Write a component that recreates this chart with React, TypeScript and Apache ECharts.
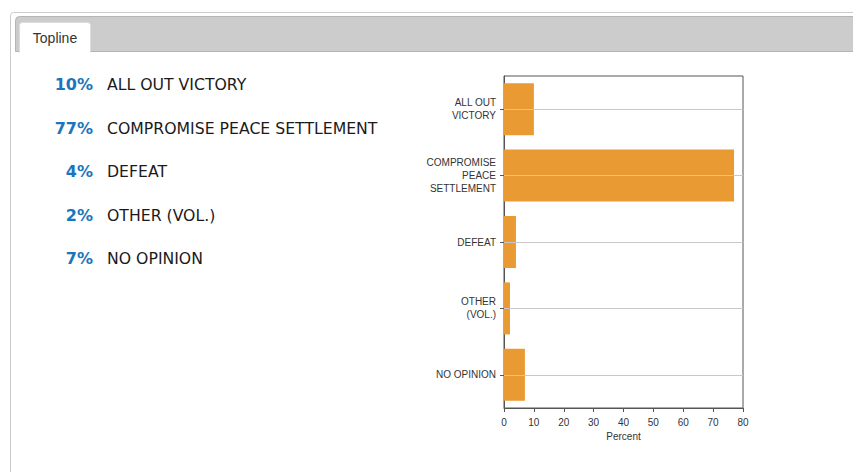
import React, { useEffect, useRef } from "react";
import * as echarts from "echarts";

const categories = ["ALL OUT\nVICTORY", "COMPROMISE\nPEACE\nSETTLEMENT", "DEFEAT", "OTHER\n(VOL.)", "NO OPINION"];
const listLabels = ["ALL OUT VICTORY", "COMPROMISE PEACE SETTLEMENT", "DEFEAT", "OTHER (VOL.)", "NO OPINION"];
const values = [10, 77, 4, 2, 7];
const xTicks = [0, 10, 20, 30, 40, 50, 60, 70, 80];
const tabTitle = "Topline";
const axisName = "Percent";

export default function App() {
  const ref = useRef<HTMLDivElement>(null);
  useEffect(() => {
    if (!ref.current) return;
    const chart = echarts.init(ref.current, null, { renderer: "svg" });
    const listGraphics: any[] = [];
    values.forEach((v, i) => {
      const y = 84.5 + i * 43.5;
      listGraphics.push({
        type: "text",
        x: 93,
        y,
        style: {
          text: `${v}%`,
          fill: "#1b75bc",
          font: "bold 16px 'DejaVu Sans', Verdana, sans-serif",
          align: "right",
          verticalAlign: "middle",
        },
      });
      listGraphics.push({
        type: "text",
        x: 107,
        y,
        style: {
          text: listLabels[i],
          fill: "#1a1a1a",
          font: "15.7px 'DejaVu Sans', Verdana, sans-serif",
          align: "left",
          verticalAlign: "middle",
        },
      });
    });
    chart.setOption({
      animation: false,
      backgroundColor: "#ffffff",
      graphic: [
        {
          type: "rect",
          z: -10,
          shape: { x: 10.5, y: 12.5, width: 900, height: 520, r: 3 },
          style: { fill: "#ffffff", stroke: "#cccccc", lineWidth: 1 },
        },
        {
          type: "rect",
          z: -9,
          shape: { x: 15.5, y: 16.5, width: 900, height: 35, r: [4, 0, 0, 0] },
          style: { fill: "#cccccc", stroke: "#b5b5b5", lineWidth: 1 },
        },
        {
          type: "rect",
          z: -8,
          shape: { x: 19.5, y: 22.5, width: 71, height: 30, r: [3, 3, 0, 0] },
          style: { fill: "#ffffff", stroke: "#dddddd", lineWidth: 1 },
        },
        {
          type: "rect",
          z: -7,
          shape: { x: 20, y: 45, width: 70, height: 10 },
          style: { fill: "#ffffff" },
        },
        {
          type: "text",
          x: 55,
          y: 37.5,
          style: {
            text: tabTitle,
            fill: "#333333",
            font: "14px 'Liberation Sans', Arial, sans-serif",
            align: "center",
            verticalAlign: "middle",
          },
        },
        ...listGraphics,
      ],
      grid: {
        left: 504,
        top: 76,
        width: 239,
        height: 332,
        show: true,
        borderColor: "#555555",
        borderWidth: 1,
        backgroundColor: "transparent",
      },
      xAxis: {
        type: "value",
        min: 0,
        max: 80,
        interval: 10,
        name: axisName,
        nameLocation: "middle",
        nameGap: 23,
        nameTextStyle: { fontSize: 10, color: "#333", fontFamily: "'Liberation Sans', Arial, sans-serif" },
        axisLine: { show: true, lineStyle: { color: "#555", width: 1 } },
        axisTick: { show: true, length: 4, lineStyle: { color: "#555" } },
        axisLabel: {
          fontSize: 10,
          color: "#333",
          margin: 9,
          fontFamily: "'Liberation Sans', Arial, sans-serif",
          formatter: (val: number) => (xTicks.includes(val) ? String(val) : ""),
        },
        splitLine: { show: false },
      },
      yAxis: {
        type: "category",
        inverse: true,
        data: categories,
        axisLine: { show: true, lineStyle: { color: "#555", width: 1 } },
        axisTick: { show: true, alignWithLabel: true, length: 4, lineStyle: { color: "#555" } },
        axisLabel: {
          fontSize: 10,
          color: "#333",
          margin: 8,
          lineHeight: 13,
          align: "right",
          fontFamily: "'Liberation Sans', Arial, sans-serif",
        },
        splitLine: { show: false },
      },
      series: [
        {
          type: "scatter",
          data: [],
          z: 1,
          silent: true,
          markLine: {
            silent: true,
            symbol: "none",
            label: { show: false },
            lineStyle: { color: "#c8c8c8", width: 1, type: "solid" },
            data: categories.map((c) => ({ yAxis: c })),
          },
        },
        {
          type: "bar",
          z: 3,
          data: values,
          barWidth: 52,
          itemStyle: { color: "#e99a33" },
        },
      ],
    });
    return () => chart.dispose();
  }, []);
  return (
    <div
      ref={ref}
      style={{ position: "fixed", left: 0, top: 0, width: 853, height: 472, background: "#fff" }}
    />
  );
}
